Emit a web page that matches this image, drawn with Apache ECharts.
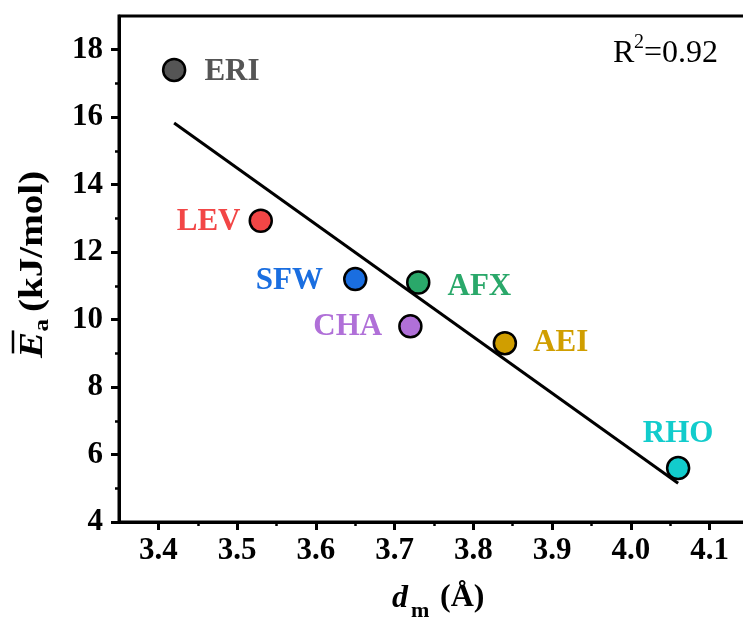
<!DOCTYPE html>
<html><head><meta charset="utf-8">
<script src="https://cdn.jsdelivr.net/npm/echarts@6/dist/echarts.min.js"></script>
<style>html,body{margin:0;padding:0;background:#fff}#c{width:743px;height:621px}</style>
</head><body><div id="c"></div>
<script>
const zeolites = ['ERI', 'LEV', 'SFW', 'AFX', 'CHA', 'AEI', 'RHO'];
const dm = [3.42, 3.53, 3.65, 3.73, 3.72, 3.84, 4.06];
const ea = [17.4, 12.93, 11.2, 11.1, 9.8, 9.3, 5.6];
const fitX = [3.42, 4.06];
const fitY = [15.83, 5.15];
const xTickLabels = [3.4, 3.5, 3.6, 3.7, 3.8, 3.9, 4.0, 4.1];
const xMinorTicks = [3.45, 3.55, 3.65, 3.75, 3.85, 3.95, 4.05];
const yTickLabels = [4, 6, 8, 10, 12, 14, 16, 18];
const yMinorTicks = [5, 7, 9, 11, 13, 15, 17];
const r2Text = ['R', '2', '=0.92'];

const styles = {
  ERI: {fill: '#555555', text: '#555555', pos: 'right', dist: 18, off: [0, 2]},
  LEV: {fill: '#f24646', text: '#f24646', pos: 'left', dist: 8, off: [0, 1]},
  SFW: {fill: '#1a6ee0', text: '#1a6ee0', pos: 'left', dist: 20, off: [0, 2]},
  AFX: {fill: '#2aa86a', text: '#2aa86a', pos: 'right', dist: 17, off: [0, 4]},
  CHA: {fill: '#b070d8', text: '#b070d8', pos: 'left', dist: 16, off: [0, 1]},
  AEI: {fill: '#d09e00', text: '#d09e00', pos: 'right', dist: 16, off: [0, 0]},
  RHO: {fill: '#12cccc', text: '#12cccc', pos: 'top', dist: 6, off: [0, 0]}
};

const fam = 'Liberation Serif';
const chart = echarts.init(document.getElementById('c'), null, {renderer: 'canvas'});

const points = zeolites.map((n, i) => ({
  name: n,
  value: [dm[i], ea[i]],
  itemStyle: {color: styles[n].fill, borderColor: '#000', borderWidth: 2.5, opacity: 1},
  label: {show: true, formatter: '{b}', position: styles[n].pos, distance: styles[n].dist,
    offset: styles[n].off, color: styles[n].text, opacity: 1, fontFamily: fam, fontWeight: 'bold', fontSize: 31}
}));

const axisFont = {fontFamily: fam, fontWeight: 'bold', fontSize: 31, color: '#000'};

chart.setOption({
  animation: false,
  backgroundColor: '#fff',
  grid: {left: 119, top: 16, width: 630, height: 506, show: true, borderColor: '#000', borderWidth: 3,
    backgroundColor: 'transparent', outerBoundsMode: 'none', containLabel: false},
  xAxis: [{
    type: 'value', min: 3.35, max: 4.15, position: 'bottom',
    axisLine: {show: true, lineStyle: {color: '#000', width: 3}},
    axisTick: {show: true, inside: false, length: 8, lineStyle: {color: '#000', width: 3}, customValues: xTickLabels},
    axisLabel: Object.assign({margin: 13, customValues: xTickLabels, formatter: v => v.toFixed(1)}, axisFont),
    splitLine: {show: false}
  }, {
    type: 'value', min: 3.35, max: 4.15, position: 'bottom',
    axisLine: {show: false},
    axisTick: {show: true, inside: false, length: 4, lineStyle: {color: '#000', width: 2.5}, customValues: xMinorTicks},
    axisLabel: {show: false},
    splitLine: {show: false}
  }],
  yAxis: [{
    type: 'value', min: 4, max: 19, position: 'left',
    axisLine: {show: true, lineStyle: {color: '#000', width: 3}},
    axisTick: {show: true, inside: false, length: 8, lineStyle: {color: '#000', width: 3}, customValues: yTickLabels},
    axisLabel: Object.assign({margin: 16, customValues: yTickLabels}, axisFont),
    splitLine: {show: false}
  }, {
    type: 'value', min: 4, max: 19, position: 'left',
    axisLine: {show: false},
    axisTick: {show: true, inside: false, length: 4, lineStyle: {color: '#000', width: 2.5}, customValues: yMinorTicks},
    axisLabel: {show: false},
    splitLine: {show: false}
  }],
  series: [{
    type: 'line', xAxisIndex: 0, yAxisIndex: 0,
    data: fitX.map((x, i) => [x, fitY[i]]),
    showSymbol: false, symbol: 'none',
    lineStyle: {color: '#000', width: 3}, z: 2
  }, {
    type: 'scatter', xAxisIndex: 0, yAxisIndex: 0,
    symbol: 'circle', symbolSize: 22,
    itemStyle: {opacity: 1},
    data: points, z: 3
  }],
  graphic: [
    {type: 'text', left: 613, top: 38, style: {text: r2Text[0], fontFamily: fam, fontSize: 32, fill: '#000'}},
    {type: 'text', left: 634, top: 33, style: {text: r2Text[1], fontFamily: fam, fontSize: 20, fill: '#000'}},
    {type: 'text', left: 644, top: 38, style: {text: r2Text[2], fontFamily: fam, fontSize: 32, fill: '#000'}},
    // x axis title
    {type: 'text', x: 392, y: 599, style: {text: 'd', fontFamily: fam, fontStyle: 'italic', fontWeight: 'bold', fontSize: 32, fill: '#000', verticalAlign: 'middle', align: 'left'}},
    {type: 'text', x: 411, y: 611, style: {text: 'm', fontFamily: fam, fontWeight: 'bold', fontSize: 22, fill: '#000', verticalAlign: 'middle', align: 'left'}},
    {type: 'text', x: 440, y: 598, style: {text: '(Å)', fontFamily: fam, fontWeight: 'bold', fontSize: 32, fill: '#000', verticalAlign: 'middle', align: 'left'}},
    // y axis title
    {type: 'group', x: 33, y: 358, rotation: Math.PI / 2, scaleX: 1.15, children: [
      {type: 'text', x: 0, y: 0, style: {text: 'E', fontFamily: fam, fontStyle: 'italic', fontWeight: 'bold', fontSize: 34, fill: '#000', verticalAlign: 'middle', align: 'left'}},
      {type: 'line', shape: {x1: 4, y1: -20, x2: 24, y2: -20}, style: {stroke: '#000', lineWidth: 2.5}},
      {type: 'text', x: 23, y: 9, style: {text: 'a', fontFamily: fam, fontWeight: 'bold', fontSize: 22, fill: '#000', verticalAlign: 'middle', align: 'left'}},
      {type: 'text', x: 40, y: 0, style: {text: '(kJ/mol)', fontFamily: fam, fontWeight: 'bold', fontSize: 34, fill: '#000', verticalAlign: 'middle', align: 'left'}}
    ]}
  ]
});
</script>
</body></html>
